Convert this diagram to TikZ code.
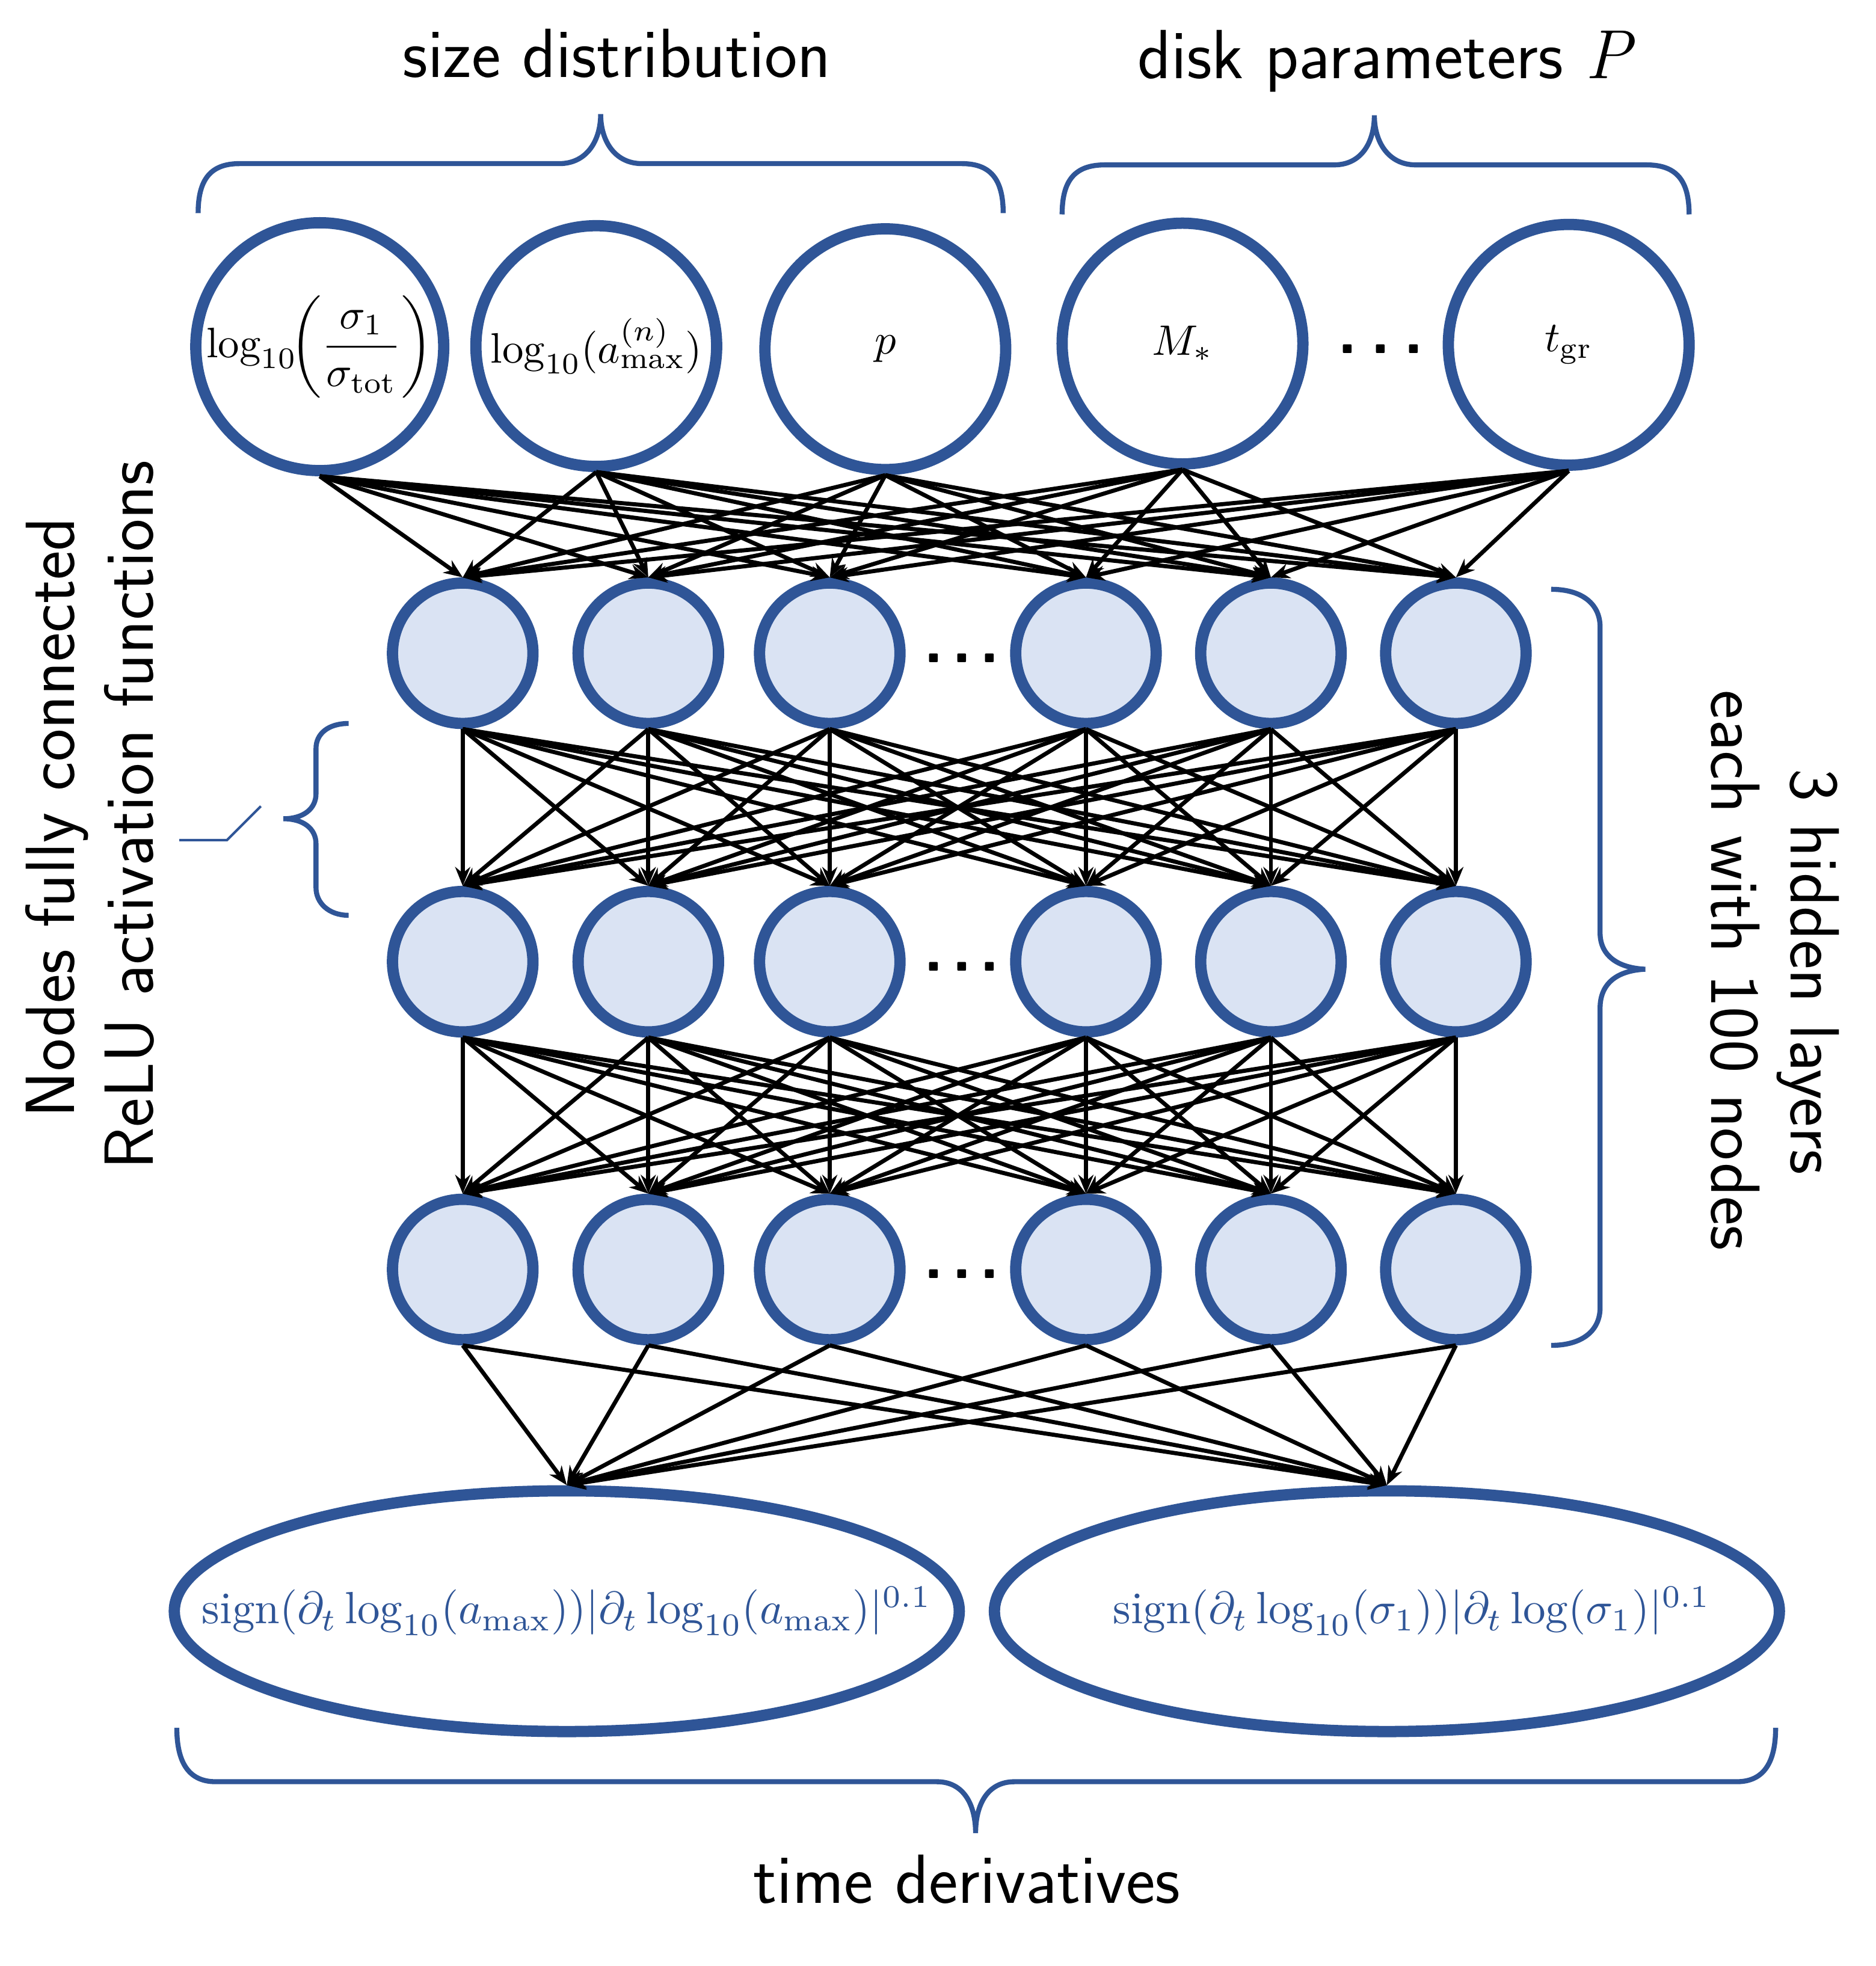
\documentclass[tikz,border=0pt]{standalone}
\usepackage{amsmath}
\usepackage{graphicx}
\usepackage{fontspec}
\usetikzlibrary{shapes.geometric,arrows.meta}
\definecolor{nnblue}{RGB}{47,85,151}
\definecolor{nnfill}{RGB}{218,227,243}
\begin{document}
\begin{tikzpicture}[x=1pt,y=-1pt,
  innode/.style={circle,draw=nnblue,line width=9pt,fill=white,minimum size=192pt,inner sep=0pt},
  hidnode/.style={circle,draw=nnblue,line width=9pt,fill=nnfill,minimum size=112pt,inner sep=0pt},
  outnode/.style={ellipse,draw=nnblue,line width=9pt,fill=white,minimum width=626pt,minimum height=192pt,inner sep=0pt,text=nnblue},
  conn/.style={line width=3.3pt,-{Stealth[length=15pt,width=12pt]}},
  brace/.style={draw=nnblue,line width=4pt},
  lbl/.style={font=\sffamily\fontsize{55.5}{66}\selectfont,anchor=base,inner sep=0pt},
  dotsnode/.style={font=\sffamily\bfseries\fontsize{53}{64}\selectfont,inner sep=0pt}
]
\useasboundingbox[fill=white] (0,0) rectangle (1496,1568);

% input nodes
\node[innode] (in1) at (255,276.5) {\scalebox{3.4}{$\log_{10}\!\biggl(\dfrac{\sigma_1}{\sigma_{\mathrm{tot}}}\biggr)$}};
\node[innode] (in2) at (475.5,276) {\scalebox{3.4}{$\log_{10}(a_{\mathrm{max}}^{(n)})$}};
\node[innode] (in3) at (706,278.5) {\scalebox{3.4}{$p$}};
\node[innode] (in4) at (943,274) {\scalebox{3.4}{$M_*$}};
\node[innode] (in5) at (1251,275) {\scalebox{3.4}{$t_{\mathrm{gr}}$}};
\node[dotsnode] (dtop) at (1101,278.5) {.\hspace{10pt}.\hspace{10pt}.};

% hidden layers
\foreach \x [count=\j] in {369,517,661.7,866,1013.5,1161} {
  \node[hidnode] (ha\j) at (\x,521) {};
  \node[hidnode] (hb\j) at (\x,767) {};
  \node[hidnode] (hc\j) at (\x,1012.5) {};
}
\node[dotsnode] (da) at (767,525) {.\hspace{6pt}.\hspace{6pt}.};
\node[dotsnode] (db) at (767,771) {.\hspace{6pt}.\hspace{6pt}.};
\node[dotsnode] (dc) at (767,1016) {.\hspace{6pt}.\hspace{6pt}.};

% outputs
\node[outnode] (o1) at (452,1285) {\makebox[0pt]{\scalebox{3.6}{$\mathrm{sign}(\partial_t\log_{10}(a_{\mathrm{max}}))|\partial_t\log_{10}(a_{\mathrm{max}})|^{0.1}$}}};
\node[outnode] (o2) at (1106,1285) {\makebox[0pt]{\hspace*{40pt}\scalebox{3.6}{$\mathrm{sign}(\partial_t\log_{10}(\sigma_1))|\partial_t\log(\sigma_1)|^{0.1}$}}};

% connectors
\foreach \i in {1,...,5} \foreach \j in {1,...,6} \draw[conn] (in\i.south) -- (ha\j.north);
\foreach \i in {1,...,6} \foreach \j in {1,...,6} {
  \draw[conn] (ha\i.south) -- (hb\j.north);
  \draw[conn] (hb\i.south) -- (hc\j.north);
}
\foreach \i in {1,...,6} \foreach \j in {1,2} \draw[conn] (hc\i.south) -- (o\j.north);

% braces
\draw[brace] (158,170) .. controls (158,143) and (168,130.5) .. (191,130.5) -- (446,130.5)
  .. controls (468,130.5) and (479,112) .. (479,91) .. controls (479,112) and (490,130.5) .. (512,130.5)
  -- (767,130.5) .. controls (790,130.5) and (800,143) .. (800,170);
\draw[brace] (847,171) .. controls (847,144) and (857,131.5) .. (881,131.5) -- (1064,131.5)
  .. controls (1086,131.5) and (1096,113) .. (1096,92) .. controls (1096,113) and (1107,131.5) .. (1129,131.5)
  -- (1313,131.5) .. controls (1337,131.5) and (1347,144) .. (1347,171);
\draw[brace] (1237,470) .. controls (1262,470) and (1276,482) .. (1276,500) -- (1276,744)
  .. controls (1276,762) and (1290,772) .. (1312,773) .. controls (1290,774) and (1276,784) .. (1276,804)
  -- (1276,1043) .. controls (1276,1061) and (1262,1073) .. (1237,1073);
\draw[brace] (141,1378) .. controls (141,1405) and (150,1421) .. (172,1421) -- (747,1421)
  .. controls (769,1421) and (778,1440) .. (778,1462) .. controls (778,1440) and (787,1421) .. (809,1421)
  -- (1385,1421) .. controls (1407,1421) and (1416,1405) .. (1416,1378);
\draw[brace] (278,577) .. controls (262,577) and (252,585) .. (252,597) -- (252,633)
  .. controls (252,645) and (242,653) .. (226,653) .. controls (242,653) and (252,661) .. (252,673)
  -- (252,708) .. controls (252,720) and (262,730) .. (278,730);
\coordinate (cl1) at (143,670);
\coordinate (cl2) at (181,670);
\coordinate (cl3) at (208,643);
\draw[nnblue,line width=2pt] (cl1) -- (cl2) -- (cl3);

% labels
\node[lbl] (tsize) at (492,61.6) {size distribution};
\node[lbl] (tdisk) at (1104,62.4) {disk parameters {\rmfamily\itshape P}};
\node[lbl] (ttime) at (771,1518) {time derivatives};
\node[lbl,rotate=90] (tnodes) at (59,652) {Nodes fully connected};
\node[lbl,rotate=90] (trelu) at (122,650) {ReLU activation functions};
\node[lbl,rotate=-90] (thid) at (1428,775) {3 hidden layers};
\node[lbl,rotate=-90] (teach) at (1365,774) {each with 100 nodes};
\end{tikzpicture}
\end{document}
